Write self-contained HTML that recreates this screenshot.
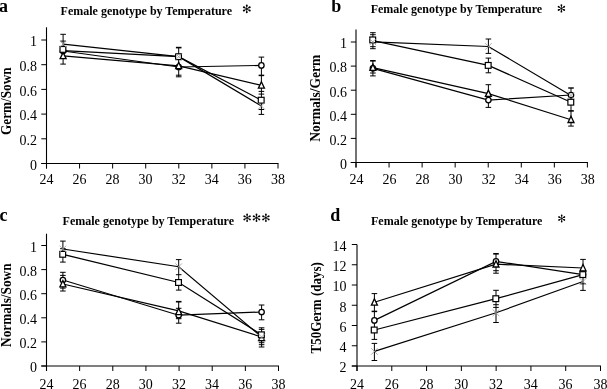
<!DOCTYPE html>
<html><head><meta charset="utf-8"><title>Female genotype by Temperature</title>
<style>
html,body{margin:0;padding:0;background:#fff;}
svg{display:block;font-family:"Liberation Serif", serif;filter:grayscale(1);}
text{fill:#000;}
</style></head><body>
<svg width="607" height="389" viewBox="0 0 607 389">
<rect width="607" height="389" fill="#fff"/>
<line x1="46.5" y1="27.3" x2="46.5" y2="168.5" stroke="#000" stroke-width="1.1" />
<line x1="41.3" y1="163.5" x2="278.5" y2="163.5" stroke="#000" stroke-width="1.1" />
<line x1="46.5" y1="163.5" x2="46.5" y2="168.5" stroke="#000" stroke-width="1" />
<text transform="translate(46.4,184.3) scale(1,1.1)" font-size="14" text-anchor="middle" font-weight="normal" >24</text>
<line x1="79.57" y1="163.5" x2="79.57" y2="168.5" stroke="#000" stroke-width="1" />
<text transform="translate(79.47,184.3) scale(1,1.1)" font-size="14" text-anchor="middle" font-weight="normal" >26</text>
<line x1="112.64" y1="163.5" x2="112.64" y2="168.5" stroke="#000" stroke-width="1" />
<text transform="translate(112.54,184.3) scale(1,1.1)" font-size="14" text-anchor="middle" font-weight="normal" >28</text>
<line x1="145.71" y1="163.5" x2="145.71" y2="168.5" stroke="#000" stroke-width="1" />
<text transform="translate(145.61,184.3) scale(1,1.1)" font-size="14" text-anchor="middle" font-weight="normal" >30</text>
<line x1="178.79" y1="163.5" x2="178.79" y2="168.5" stroke="#000" stroke-width="1" />
<text transform="translate(178.69,184.3) scale(1,1.1)" font-size="14" text-anchor="middle" font-weight="normal" >32</text>
<line x1="211.86" y1="163.5" x2="211.86" y2="168.5" stroke="#000" stroke-width="1" />
<text transform="translate(211.76,184.3) scale(1,1.1)" font-size="14" text-anchor="middle" font-weight="normal" >34</text>
<line x1="244.93" y1="163.5" x2="244.93" y2="168.5" stroke="#000" stroke-width="1" />
<text transform="translate(244.83,184.3) scale(1,1.1)" font-size="14" text-anchor="middle" font-weight="normal" >36</text>
<line x1="278" y1="163.5" x2="278" y2="168.5" stroke="#000" stroke-width="1" />
<text transform="translate(277.9,184.3) scale(1,1.1)" font-size="14" text-anchor="middle" font-weight="normal" >38</text>
<line x1="41.3" y1="163.5" x2="46.5" y2="163.5" stroke="#000" stroke-width="1" />
<text transform="translate(37,169.8) scale(1,1.1)" font-size="14" text-anchor="end" font-weight="normal" >0</text>
<line x1="41.3" y1="138.8" x2="46.5" y2="138.8" stroke="#000" stroke-width="1" />
<text transform="translate(37,145.1) scale(1,1.1)" font-size="14" text-anchor="end" font-weight="normal" >0.2</text>
<line x1="41.3" y1="114.1" x2="46.5" y2="114.1" stroke="#000" stroke-width="1" />
<text transform="translate(37,120.4) scale(1,1.1)" font-size="14" text-anchor="end" font-weight="normal" >0.4</text>
<line x1="41.3" y1="89.4" x2="46.5" y2="89.4" stroke="#000" stroke-width="1" />
<text transform="translate(37,95.7) scale(1,1.1)" font-size="14" text-anchor="end" font-weight="normal" >0.6</text>
<line x1="41.3" y1="64.7" x2="46.5" y2="64.7" stroke="#000" stroke-width="1" />
<text transform="translate(37,71) scale(1,1.1)" font-size="14" text-anchor="end" font-weight="normal" >0.8</text>
<line x1="41.3" y1="40" x2="46.5" y2="40" stroke="#000" stroke-width="1" />
<text transform="translate(37,46.3) scale(1,1.1)" font-size="14" text-anchor="end" font-weight="normal" >1</text>
<polyline points="63.1,44.1 178.7,56.7 261.4,106" fill="none" stroke="#000" stroke-width="1.2"/>
<polyline points="63.1,50.6 178.7,56.7 261.4,100.2" fill="none" stroke="#000" stroke-width="1.2"/>
<polyline points="63.1,51 178.7,67 261.4,65.4" fill="none" stroke="#000" stroke-width="1.2"/>
<polyline points="63.1,55.9 178.7,65.8 261.4,85.3" fill="none" stroke="#000" stroke-width="1.2"/>
<line x1="63.1" y1="34.3" x2="63.1" y2="64.1" stroke="#000" stroke-width="1" />
<line x1="178.7" y1="47.6" x2="178.7" y2="76.8" stroke="#000" stroke-width="1" />
<line x1="261.4" y1="57.1" x2="261.4" y2="114.4" stroke="#000" stroke-width="1" />
<line x1="60.3" y1="34.3" x2="65.9" y2="34.3" stroke="#000" stroke-width="1" />
<line x1="60.3" y1="41.1" x2="65.9" y2="41.1" stroke="#000" stroke-width="1" />
<line x1="60.3" y1="64.1" x2="65.9" y2="64.1" stroke="#000" stroke-width="1" />
<line x1="175.9" y1="47.6" x2="181.5" y2="47.6" stroke="#000" stroke-width="1.6" />
<line x1="175.9" y1="75.2" x2="181.5" y2="75.2" stroke="#000" stroke-width="1" />
<line x1="175.9" y1="76.8" x2="181.5" y2="76.8" stroke="#000" stroke-width="1" />
<line x1="258.6" y1="57.1" x2="264.2" y2="57.1" stroke="#000" stroke-width="1" />
<line x1="258.6" y1="75.4" x2="264.2" y2="75.4" stroke="#000" stroke-width="1.5" />
<line x1="258.6" y1="91.4" x2="264.2" y2="91.4" stroke="#000" stroke-width="1" />
<line x1="258.6" y1="94.1" x2="264.2" y2="94.1" stroke="#000" stroke-width="1" />
<line x1="258.6" y1="109.5" x2="264.2" y2="109.5" stroke="#000" stroke-width="1" />
<line x1="258.6" y1="114.4" x2="264.2" y2="114.4" stroke="#000" stroke-width="1" />
<circle cx="63.1" cy="51" r="2.7" fill="#fff" stroke="#000" stroke-width="1.3"/>
<circle cx="178.7" cy="67" r="2.7" fill="#fff" stroke="#000" stroke-width="1.3"/>
<circle cx="261.4" cy="65.4" r="2.7" fill="#fff" stroke="#000" stroke-width="1.3"/>
<path d="M63.1 52.4L66.1 58.7L60.1 58.7Z" fill="#fff" stroke="#000" stroke-width="1.3"/>
<path d="M178.7 62.3L181.7 68.6L175.7 68.6Z" fill="#fff" stroke="#000" stroke-width="1.3"/>
<path d="M261.4 81.8L264.4 88.1L258.4 88.1Z" fill="#fff" stroke="#000" stroke-width="1.3"/>
<rect x="60" y="46.5" width="5.8" height="5.8" fill="#fff" stroke="#000" stroke-width="1.2"/>
<rect x="175.6" y="53.8" width="5.8" height="5.8" fill="#fff" stroke="#000" stroke-width="1.2"/>
<rect x="258.3" y="97.3" width="5.8" height="5.8" fill="#fff" stroke="#000" stroke-width="1.2"/>
<path d="M59.8 40.8L66.4 47.4M59.8 47.4L66.4 40.8" fill="none" stroke="#999" stroke-width="0.8"/>
<path d="M175.4 53.4L182 60M175.4 60L182 53.4" fill="none" stroke="#999" stroke-width="0.8"/>
<path d="M258.1 102.7L264.7 109.3M258.1 109.3L264.7 102.7" fill="none" stroke="#999" stroke-width="0.8"/>
<text x="-1" y="12" font-size="18" text-anchor="start" font-weight="bold" >a</text>
<text x="60.6" y="14.8" font-size="12" text-anchor="start" font-weight="bold" >Female genotype by Temperature</text>
<path d="M247.05 8.9L247.1 7.35L247.61 6.14L247.75 5.45A0.95 0.95 0 0 0 245.85 5.45L245.99 6.14L246.5 7.35L246.55 8.9ZM246.93 9.12L248.29 8.38L249.59 8.22L250.26 8A0.95 0.95 0 0 0 249.31 6.35L248.79 6.82L247.99 7.86L246.68 8.68ZM246.68 9.12L247.99 9.94L248.79 10.98L249.31 11.45A0.95 0.95 0 0 0 250.26 9.8L249.59 9.58L248.29 9.42L246.93 8.68ZM246.55 8.9L246.5 10.45L245.99 11.66L245.85 12.35A0.95 0.95 0 0 0 247.75 12.35L247.61 11.66L247.1 10.45L247.05 8.9ZM246.68 8.68L245.31 9.42L244.01 9.58L243.34 9.8A0.95 0.95 0 0 0 244.29 11.45L244.81 10.98L245.61 9.94L246.93 9.12ZM246.93 8.68L245.61 7.86L244.81 6.82L244.29 6.35A0.95 0.95 0 0 0 243.34 8L244.01 8.22L245.31 8.38L246.68 9.12Z" fill="#000"/>
<circle cx="246.8" cy="8.9" r="1.25" fill="#000" fill-opacity="0.55"/>
<text transform="translate(10.7,101.2) rotate(-90) scale(1,1.15)" font-size="13.2" font-weight="bold" text-anchor="middle">Germ/Sown</text>
<line x1="356" y1="29.6" x2="356" y2="167.5" stroke="#000" stroke-width="1.1" />
<line x1="350.8" y1="162.5" x2="587.9" y2="162.5" stroke="#000" stroke-width="1.1" />
<line x1="356" y1="162.5" x2="356" y2="167.5" stroke="#000" stroke-width="1" />
<text transform="translate(356.4,184.3) scale(1,1.1)" font-size="14" text-anchor="middle" font-weight="normal" >24</text>
<line x1="389.06" y1="162.5" x2="389.06" y2="167.5" stroke="#000" stroke-width="1" />
<text transform="translate(389.46,184.3) scale(1,1.1)" font-size="14" text-anchor="middle" font-weight="normal" >26</text>
<line x1="422.11" y1="162.5" x2="422.11" y2="167.5" stroke="#000" stroke-width="1" />
<text transform="translate(422.51,184.3) scale(1,1.1)" font-size="14" text-anchor="middle" font-weight="normal" >28</text>
<line x1="455.17" y1="162.5" x2="455.17" y2="167.5" stroke="#000" stroke-width="1" />
<text transform="translate(455.57,184.3) scale(1,1.1)" font-size="14" text-anchor="middle" font-weight="normal" >30</text>
<line x1="488.23" y1="162.5" x2="488.23" y2="167.5" stroke="#000" stroke-width="1" />
<text transform="translate(488.63,184.3) scale(1,1.1)" font-size="14" text-anchor="middle" font-weight="normal" >32</text>
<line x1="521.29" y1="162.5" x2="521.29" y2="167.5" stroke="#000" stroke-width="1" />
<text transform="translate(521.69,184.3) scale(1,1.1)" font-size="14" text-anchor="middle" font-weight="normal" >34</text>
<line x1="554.34" y1="162.5" x2="554.34" y2="167.5" stroke="#000" stroke-width="1" />
<text transform="translate(554.74,184.3) scale(1,1.1)" font-size="14" text-anchor="middle" font-weight="normal" >36</text>
<line x1="587.4" y1="162.5" x2="587.4" y2="167.5" stroke="#000" stroke-width="1" />
<text transform="translate(587.8,184.3) scale(1,1.1)" font-size="14" text-anchor="middle" font-weight="normal" >38</text>
<line x1="350.8" y1="162.5" x2="356" y2="162.5" stroke="#000" stroke-width="1" />
<text transform="translate(347.1,168.8) scale(1,1.1)" font-size="14" text-anchor="end" font-weight="normal" >0</text>
<line x1="350.8" y1="138.4" x2="356" y2="138.4" stroke="#000" stroke-width="1" />
<text transform="translate(347.1,144.7) scale(1,1.1)" font-size="14" text-anchor="end" font-weight="normal" >0.2</text>
<line x1="350.8" y1="114.3" x2="356" y2="114.3" stroke="#000" stroke-width="1" />
<text transform="translate(347.1,120.6) scale(1,1.1)" font-size="14" text-anchor="end" font-weight="normal" >0.4</text>
<line x1="350.8" y1="90.2" x2="356" y2="90.2" stroke="#000" stroke-width="1" />
<text transform="translate(347.1,96.5) scale(1,1.1)" font-size="14" text-anchor="end" font-weight="normal" >0.6</text>
<line x1="350.8" y1="66.1" x2="356" y2="66.1" stroke="#000" stroke-width="1" />
<text transform="translate(347.1,72.4) scale(1,1.1)" font-size="14" text-anchor="end" font-weight="normal" >0.8</text>
<line x1="350.8" y1="42" x2="356" y2="42" stroke="#000" stroke-width="1" />
<text transform="translate(347.1,48.3) scale(1,1.1)" font-size="14" text-anchor="end" font-weight="normal" >1</text>
<polyline points="372.9,41.9 488.4,46.5 571,95.5" fill="none" stroke="#000" stroke-width="1.2"/>
<polyline points="372.9,40.7 488.4,65.4 571,102.2" fill="none" stroke="#000" stroke-width="1.2"/>
<polyline points="372.9,68.3 488.4,100.1 571,95" fill="none" stroke="#000" stroke-width="1.2"/>
<polyline points="372.9,67.6 488.4,93.6 571,119.7" fill="none" stroke="#000" stroke-width="1.2"/>
<line x1="372.9" y1="32.7" x2="372.9" y2="48.7" stroke="#000" stroke-width="1" />
<line x1="372.9" y1="61" x2="372.9" y2="75.9" stroke="#000" stroke-width="1" />
<line x1="488.4" y1="39" x2="488.4" y2="53.4" stroke="#000" stroke-width="1" />
<line x1="488.4" y1="58.1" x2="488.4" y2="72.8" stroke="#000" stroke-width="1" />
<line x1="488.4" y1="84.7" x2="488.4" y2="107.4" stroke="#000" stroke-width="1" />
<line x1="571" y1="88" x2="571" y2="126.1" stroke="#000" stroke-width="1" />
<line x1="370.1" y1="32.7" x2="375.7" y2="32.7" stroke="#000" stroke-width="1" />
<line x1="370.1" y1="34.7" x2="375.7" y2="34.7" stroke="#000" stroke-width="1" />
<line x1="370.1" y1="46.7" x2="375.7" y2="46.7" stroke="#000" stroke-width="1" />
<line x1="370.1" y1="48.7" x2="375.7" y2="48.7" stroke="#000" stroke-width="1" />
<line x1="370.1" y1="60.8" x2="375.7" y2="60.8" stroke="#000" stroke-width="1.6" />
<line x1="370.1" y1="73" x2="375.7" y2="73" stroke="#000" stroke-width="1" />
<line x1="370.1" y1="75.9" x2="375.7" y2="75.9" stroke="#000" stroke-width="1" />
<line x1="485.6" y1="39" x2="491.2" y2="39" stroke="#000" stroke-width="1" />
<line x1="485.6" y1="53.4" x2="491.2" y2="53.4" stroke="#000" stroke-width="1" />
<line x1="485.6" y1="58.1" x2="491.2" y2="58.1" stroke="#000" stroke-width="1" />
<line x1="485.6" y1="72.8" x2="491.2" y2="72.8" stroke="#000" stroke-width="1" />
<line x1="485.6" y1="84.7" x2="491.2" y2="84.7" stroke="#000" stroke-width="1" />
<line x1="485.6" y1="107.4" x2="491.2" y2="107.4" stroke="#000" stroke-width="1" />
<line x1="568.2" y1="88" x2="573.8" y2="88" stroke="#000" stroke-width="1.4" />
<line x1="568.2" y1="110.9" x2="573.8" y2="110.9" stroke="#000" stroke-width="1.6" />
<line x1="568.2" y1="126.1" x2="573.8" y2="126.1" stroke="#000" stroke-width="1" />
<circle cx="372.9" cy="68.3" r="2.7" fill="#fff" stroke="#000" stroke-width="1.3"/>
<circle cx="488.4" cy="100.1" r="2.7" fill="#fff" stroke="#000" stroke-width="1.3"/>
<circle cx="571" cy="95" r="2.7" fill="#fff" stroke="#000" stroke-width="1.3"/>
<path d="M372.9 64.1L375.9 70.4L369.9 70.4Z" fill="#fff" stroke="#000" stroke-width="1.3"/>
<path d="M488.4 90.1L491.4 96.4L485.4 96.4Z" fill="#fff" stroke="#000" stroke-width="1.3"/>
<path d="M571 116.2L574 122.5L568 122.5Z" fill="#fff" stroke="#000" stroke-width="1.3"/>
<rect x="369.8" y="37" width="5.8" height="5.8" fill="#fff" stroke="#000" stroke-width="1.2"/>
<rect x="485.3" y="62.5" width="5.8" height="5.8" fill="#fff" stroke="#000" stroke-width="1.2"/>
<rect x="567.9" y="99.3" width="5.8" height="5.8" fill="#fff" stroke="#000" stroke-width="1.2"/>
<path d="M369.6 38.6L376.2 45.2M369.6 45.2L376.2 38.6" fill="none" stroke="#999" stroke-width="0.8"/>
<path d="M485.1 43.2L491.7 49.8M485.1 49.8L491.7 43.2" fill="none" stroke="#999" stroke-width="0.8"/>
<path d="M567.7 92.2L574.3 98.8M567.7 98.8L574.3 92.2" fill="none" stroke="#999" stroke-width="0.8"/>
<text x="331.2" y="12" font-size="18" text-anchor="start" font-weight="bold" >b</text>
<text x="370.7" y="13.2" font-size="12" text-anchor="start" font-weight="bold" >Female genotype by Temperature</text>
<path d="M561.64 8.4L561.68 6.93L562.17 5.78L562.3 5.12A0.9 0.9 0 0 0 560.5 5.12L560.63 5.78L561.12 6.93L561.16 8.4ZM561.52 8.61L562.82 7.91L564.05 7.75L564.69 7.54A0.9 0.9 0 0 0 563.79 5.98L563.29 6.42L562.53 7.42L561.28 8.19ZM561.28 8.61L562.53 9.38L563.29 10.38L563.79 10.82A0.9 0.9 0 0 0 564.69 9.26L564.05 9.05L562.82 8.89L561.52 8.19ZM561.16 8.4L561.12 9.87L560.63 11.02L560.5 11.68A0.9 0.9 0 0 0 562.3 11.68L562.17 11.02L561.68 9.87L561.64 8.4ZM561.28 8.19L559.98 8.89L558.75 9.05L558.11 9.26A0.9 0.9 0 0 0 559.01 10.82L559.51 10.38L560.27 9.38L561.52 8.61ZM561.52 8.19L560.27 7.42L559.51 6.42L559.01 5.98A0.9 0.9 0 0 0 558.11 7.54L558.75 7.75L559.98 7.91L561.28 8.61Z" fill="#000"/>
<circle cx="561.4" cy="8.4" r="1.19" fill="#000" fill-opacity="0.55"/>
<text transform="translate(320.1,98.2) rotate(-90) scale(1,1.15)" font-size="13.5" font-weight="bold" text-anchor="middle">Normals/Germ</text>
<line x1="46.5" y1="233.7" x2="46.5" y2="371" stroke="#000" stroke-width="1.1" />
<line x1="41.3" y1="366" x2="279" y2="366" stroke="#000" stroke-width="1.1" />
<line x1="46.5" y1="366" x2="46.5" y2="371" stroke="#000" stroke-width="1" />
<text transform="translate(46.4,389.1) scale(1,1.1)" font-size="14" text-anchor="middle" font-weight="normal" >24</text>
<line x1="79.64" y1="366" x2="79.64" y2="371" stroke="#000" stroke-width="1" />
<text transform="translate(79.54,389.1) scale(1,1.1)" font-size="14" text-anchor="middle" font-weight="normal" >26</text>
<line x1="112.79" y1="366" x2="112.79" y2="371" stroke="#000" stroke-width="1" />
<text transform="translate(112.69,389.1) scale(1,1.1)" font-size="14" text-anchor="middle" font-weight="normal" >28</text>
<line x1="145.93" y1="366" x2="145.93" y2="371" stroke="#000" stroke-width="1" />
<text transform="translate(145.83,389.1) scale(1,1.1)" font-size="14" text-anchor="middle" font-weight="normal" >30</text>
<line x1="179.07" y1="366" x2="179.07" y2="371" stroke="#000" stroke-width="1" />
<text transform="translate(178.97,389.1) scale(1,1.1)" font-size="14" text-anchor="middle" font-weight="normal" >32</text>
<line x1="212.21" y1="366" x2="212.21" y2="371" stroke="#000" stroke-width="1" />
<text transform="translate(212.11,389.1) scale(1,1.1)" font-size="14" text-anchor="middle" font-weight="normal" >34</text>
<line x1="245.36" y1="366" x2="245.36" y2="371" stroke="#000" stroke-width="1" />
<text transform="translate(245.26,389.1) scale(1,1.1)" font-size="14" text-anchor="middle" font-weight="normal" >36</text>
<line x1="278.5" y1="366" x2="278.5" y2="371" stroke="#000" stroke-width="1" />
<text transform="translate(278.4,389.1) scale(1,1.1)" font-size="14" text-anchor="middle" font-weight="normal" >38</text>
<line x1="41.3" y1="366" x2="46.5" y2="366" stroke="#000" stroke-width="1" />
<text transform="translate(37,372.3) scale(1,1.1)" font-size="14" text-anchor="end" font-weight="normal" >0</text>
<line x1="41.3" y1="341.9" x2="46.5" y2="341.9" stroke="#000" stroke-width="1" />
<text transform="translate(37,348.2) scale(1,1.1)" font-size="14" text-anchor="end" font-weight="normal" >0.2</text>
<line x1="41.3" y1="317.8" x2="46.5" y2="317.8" stroke="#000" stroke-width="1" />
<text transform="translate(37,324.1) scale(1,1.1)" font-size="14" text-anchor="end" font-weight="normal" >0.4</text>
<line x1="41.3" y1="293.7" x2="46.5" y2="293.7" stroke="#000" stroke-width="1" />
<text transform="translate(37,300) scale(1,1.1)" font-size="14" text-anchor="end" font-weight="normal" >0.6</text>
<line x1="41.3" y1="269.6" x2="46.5" y2="269.6" stroke="#000" stroke-width="1" />
<text transform="translate(37,275.9) scale(1,1.1)" font-size="14" text-anchor="end" font-weight="normal" >0.8</text>
<line x1="41.3" y1="245.5" x2="46.5" y2="245.5" stroke="#000" stroke-width="1" />
<text transform="translate(37,251.8) scale(1,1.1)" font-size="14" text-anchor="end" font-weight="normal" >1</text>
<polyline points="62.9,249 178.7,266.7 261.6,337" fill="none" stroke="#000" stroke-width="1.2"/>
<polyline points="62.9,254.3 178.7,282.5 261.6,334.8" fill="none" stroke="#000" stroke-width="1.2"/>
<polyline points="62.9,280 178.7,315.2 261.6,312" fill="none" stroke="#000" stroke-width="1.2"/>
<polyline points="62.9,284 178.7,310.9 261.6,337" fill="none" stroke="#000" stroke-width="1.2"/>
<line x1="62.9" y1="241.1" x2="62.9" y2="262.1" stroke="#000" stroke-width="1" />
<line x1="62.9" y1="272.3" x2="62.9" y2="291" stroke="#000" stroke-width="1" />
<line x1="178.7" y1="259.6" x2="178.7" y2="290.1" stroke="#000" stroke-width="1" />
<line x1="178.7" y1="302" x2="178.7" y2="323.2" stroke="#000" stroke-width="1" />
<line x1="261.6" y1="305" x2="261.6" y2="319.8" stroke="#000" stroke-width="1" />
<line x1="261.6" y1="327.8" x2="261.6" y2="347" stroke="#000" stroke-width="1" />
<line x1="60.1" y1="241.1" x2="65.7" y2="241.1" stroke="#000" stroke-width="1" />
<line x1="60.1" y1="248.7" x2="65.7" y2="248.7" stroke="#000" stroke-width="1" />
<line x1="60.1" y1="262.1" x2="65.7" y2="262.1" stroke="#000" stroke-width="1" />
<line x1="60.1" y1="272.3" x2="65.7" y2="272.3" stroke="#000" stroke-width="1" />
<line x1="60.1" y1="275.4" x2="65.7" y2="275.4" stroke="#000" stroke-width="1" />
<line x1="60.1" y1="288.1" x2="65.7" y2="288.1" stroke="#000" stroke-width="1" />
<line x1="60.1" y1="291" x2="65.7" y2="291" stroke="#000" stroke-width="1" />
<line x1="175.9" y1="259.6" x2="181.5" y2="259.6" stroke="#000" stroke-width="1" />
<line x1="175.9" y1="274.7" x2="181.5" y2="274.7" stroke="#000" stroke-width="1" />
<line x1="175.9" y1="290.1" x2="181.5" y2="290.1" stroke="#000" stroke-width="1" />
<line x1="175.9" y1="301.7" x2="181.5" y2="301.7" stroke="#000" stroke-width="1.6" />
<line x1="175.9" y1="308.3" x2="181.5" y2="308.3" stroke="#000" stroke-width="1" />
<line x1="175.9" y1="318.7" x2="181.5" y2="318.7" stroke="#000" stroke-width="1" />
<line x1="175.9" y1="323.2" x2="181.5" y2="323.2" stroke="#000" stroke-width="1" />
<line x1="258.8" y1="305" x2="264.4" y2="305" stroke="#000" stroke-width="1" />
<line x1="258.8" y1="319.8" x2="264.4" y2="319.8" stroke="#000" stroke-width="1" />
<line x1="258.8" y1="327.8" x2="264.4" y2="327.8" stroke="#000" stroke-width="1" />
<line x1="258.8" y1="329.4" x2="264.4" y2="329.4" stroke="#000" stroke-width="1" />
<line x1="258.8" y1="340.7" x2="264.4" y2="340.7" stroke="#000" stroke-width="1" />
<line x1="258.8" y1="342.7" x2="264.4" y2="342.7" stroke="#000" stroke-width="1" />
<line x1="258.8" y1="344.7" x2="264.4" y2="344.7" stroke="#000" stroke-width="1" />
<line x1="258.8" y1="347" x2="264.4" y2="347" stroke="#000" stroke-width="1" />
<circle cx="62.9" cy="280" r="2.7" fill="#fff" stroke="#000" stroke-width="1.3"/>
<circle cx="178.7" cy="315.2" r="2.7" fill="#fff" stroke="#000" stroke-width="1.3"/>
<circle cx="261.6" cy="312" r="2.7" fill="#fff" stroke="#000" stroke-width="1.3"/>
<path d="M62.9 280.5L65.9 286.8L59.9 286.8Z" fill="#fff" stroke="#000" stroke-width="1.3"/>
<path d="M178.7 308.3L181.7 314.6L175.7 314.6Z" fill="#fff" stroke="#000" stroke-width="1.3"/>
<path d="M261.6 334.3L264.6 340.6L258.6 340.6Z" fill="#fff" stroke="#000" stroke-width="1.3"/>
<rect x="59.8" y="251.4" width="5.8" height="5.8" fill="#fff" stroke="#000" stroke-width="1.2"/>
<rect x="175.6" y="279.6" width="5.8" height="5.8" fill="#fff" stroke="#000" stroke-width="1.2"/>
<rect x="258.5" y="331.9" width="5.8" height="5.8" fill="#fff" stroke="#000" stroke-width="1.2"/>
<path d="M59.6 245.7L66.2 252.3M59.6 252.3L66.2 245.7" fill="none" stroke="#999" stroke-width="0.8"/>
<path d="M175.4 263.4L182 270M175.4 270L182 263.4" fill="none" stroke="#999" stroke-width="0.8"/>
<path d="M258.3 333.7L264.9 340.3M258.3 340.3L264.9 333.7" fill="none" stroke="#999" stroke-width="0.8"/>
<text x="-0.5" y="221" font-size="18" text-anchor="start" font-weight="bold" >c</text>
<text x="62.6" y="224.9" font-size="12" text-anchor="start" font-weight="bold" >Female genotype by Temperature</text>
<path d="M247.34 217.8L247.38 216.33L247.87 215.18L248 214.52A0.9 0.9 0 0 0 246.2 214.52L246.33 215.18L246.81 216.33L246.86 217.8ZM247.22 218.01L248.52 217.31L249.75 217.15L250.39 216.94A0.9 0.9 0 0 0 249.49 215.38L248.99 215.82L248.23 216.82L246.98 217.59ZM246.98 218.01L248.23 218.78L248.99 219.78L249.49 220.22A0.9 0.9 0 0 0 250.39 218.66L249.75 218.45L248.52 218.29L247.22 217.59ZM246.86 217.8L246.81 219.27L246.33 220.42L246.2 221.08A0.9 0.9 0 0 0 248 221.08L247.87 220.42L247.38 219.27L247.34 217.8ZM246.98 217.59L245.68 218.29L244.45 218.45L243.81 218.66A0.9 0.9 0 0 0 244.71 220.22L245.21 219.78L245.97 218.78L247.22 218.01ZM247.22 217.59L245.97 216.82L245.21 215.82L244.71 215.38A0.9 0.9 0 0 0 243.81 216.94L244.45 217.15L245.68 217.31L246.98 218.01Z" fill="#000"/>
<circle cx="247.1" cy="217.8" r="1.19" fill="#000" fill-opacity="0.55"/>
<path d="M256.74 217.8L256.79 216.33L257.27 215.18L257.4 214.52A0.9 0.9 0 0 0 255.6 214.52L255.73 215.18L256.21 216.33L256.26 217.8ZM256.62 218.01L257.92 217.31L259.15 217.15L259.79 216.94A0.9 0.9 0 0 0 258.89 215.38L258.39 215.82L257.63 216.82L256.38 217.59ZM256.38 218.01L257.63 218.78L258.39 219.78L258.89 220.22A0.9 0.9 0 0 0 259.79 218.66L259.15 218.45L257.92 218.29L256.62 217.59ZM256.26 217.8L256.21 219.27L255.73 220.42L255.6 221.08A0.9 0.9 0 0 0 257.4 221.08L257.27 220.42L256.79 219.27L256.74 217.8ZM256.38 217.59L255.08 218.29L253.85 218.45L253.21 218.66A0.9 0.9 0 0 0 254.11 220.22L254.61 219.78L255.37 218.78L256.62 218.01ZM256.62 217.59L255.37 216.82L254.61 215.82L254.11 215.38A0.9 0.9 0 0 0 253.21 216.94L253.85 217.15L255.08 217.31L256.38 218.01Z" fill="#000"/>
<circle cx="256.5" cy="217.8" r="1.19" fill="#000" fill-opacity="0.55"/>
<path d="M266.14 217.8L266.19 216.33L266.67 215.18L266.8 214.52A0.9 0.9 0 0 0 265 214.52L265.13 215.18L265.61 216.33L265.66 217.8ZM266.02 218.01L267.32 217.31L268.55 217.15L269.19 216.94A0.9 0.9 0 0 0 268.29 215.38L267.79 215.82L267.03 216.82L265.78 217.59ZM265.78 218.01L267.03 218.78L267.79 219.78L268.29 220.22A0.9 0.9 0 0 0 269.19 218.66L268.55 218.45L267.32 218.29L266.02 217.59ZM265.66 217.8L265.61 219.27L265.13 220.42L265 221.08A0.9 0.9 0 0 0 266.8 221.08L266.67 220.42L266.19 219.27L266.14 217.8ZM265.78 217.59L264.48 218.29L263.25 218.45L262.61 218.66A0.9 0.9 0 0 0 263.51 220.22L264.01 219.78L264.77 218.78L266.02 218.01ZM266.02 217.59L264.77 216.82L264.01 215.82L263.51 215.38A0.9 0.9 0 0 0 262.61 216.94L263.25 217.15L264.48 217.31L265.78 218.01Z" fill="#000"/>
<circle cx="265.9" cy="217.8" r="1.19" fill="#000" fill-opacity="0.55"/>
<text transform="translate(10.8,305.2) rotate(-90) scale(1,1.15)" font-size="13.3" font-weight="bold" text-anchor="middle">Normals/Sown</text>
<line x1="357" y1="244.5" x2="357" y2="371" stroke="#000" stroke-width="1.1" />
<line x1="351.8" y1="366" x2="601" y2="366" stroke="#000" stroke-width="1.1" />
<line x1="357" y1="366" x2="357" y2="371" stroke="#000" stroke-width="1" />
<text transform="translate(356.9,389.3) scale(1,1.1)" font-size="14" text-anchor="middle" font-weight="normal" >24</text>
<line x1="391.79" y1="366" x2="391.79" y2="371" stroke="#000" stroke-width="1" />
<text transform="translate(391.69,389.3) scale(1,1.1)" font-size="14" text-anchor="middle" font-weight="normal" >26</text>
<line x1="426.57" y1="366" x2="426.57" y2="371" stroke="#000" stroke-width="1" />
<text transform="translate(426.47,389.3) scale(1,1.1)" font-size="14" text-anchor="middle" font-weight="normal" >28</text>
<line x1="461.36" y1="366" x2="461.36" y2="371" stroke="#000" stroke-width="1" />
<text transform="translate(461.26,389.3) scale(1,1.1)" font-size="14" text-anchor="middle" font-weight="normal" >30</text>
<line x1="496.14" y1="366" x2="496.14" y2="371" stroke="#000" stroke-width="1" />
<text transform="translate(496.04,389.3) scale(1,1.1)" font-size="14" text-anchor="middle" font-weight="normal" >32</text>
<line x1="530.93" y1="366" x2="530.93" y2="371" stroke="#000" stroke-width="1" />
<text transform="translate(530.83,389.3) scale(1,1.1)" font-size="14" text-anchor="middle" font-weight="normal" >34</text>
<line x1="565.71" y1="366" x2="565.71" y2="371" stroke="#000" stroke-width="1" />
<text transform="translate(565.61,389.3) scale(1,1.1)" font-size="14" text-anchor="middle" font-weight="normal" >36</text>
<line x1="600.5" y1="366" x2="600.5" y2="371" stroke="#000" stroke-width="1" />
<text transform="translate(600.4,389.3) scale(1,1.1)" font-size="14" text-anchor="middle" font-weight="normal" >38</text>
<line x1="351.8" y1="366" x2="357" y2="366" stroke="#000" stroke-width="1" />
<text transform="translate(346.6,372.3) scale(1,1.1)" font-size="14" text-anchor="end" font-weight="normal" >2</text>
<line x1="351.8" y1="345.75" x2="357" y2="345.75" stroke="#000" stroke-width="1" />
<text transform="translate(346.6,352.05) scale(1,1.1)" font-size="14" text-anchor="end" font-weight="normal" >4</text>
<line x1="351.8" y1="325.5" x2="357" y2="325.5" stroke="#000" stroke-width="1" />
<text transform="translate(346.6,331.8) scale(1,1.1)" font-size="14" text-anchor="end" font-weight="normal" >6</text>
<line x1="351.8" y1="305.25" x2="357" y2="305.25" stroke="#000" stroke-width="1" />
<text transform="translate(346.6,311.55) scale(1,1.1)" font-size="14" text-anchor="end" font-weight="normal" >8</text>
<line x1="351.8" y1="285" x2="357" y2="285" stroke="#000" stroke-width="1" />
<text transform="translate(346.6,291.3) scale(1,1.1)" font-size="14" text-anchor="end" font-weight="normal" >10</text>
<line x1="351.8" y1="264.75" x2="357" y2="264.75" stroke="#000" stroke-width="1" />
<text transform="translate(346.6,271.05) scale(1,1.1)" font-size="14" text-anchor="end" font-weight="normal" >12</text>
<line x1="351.8" y1="244.5" x2="357" y2="244.5" stroke="#000" stroke-width="1" />
<text transform="translate(346.6,250.8) scale(1,1.1)" font-size="14" text-anchor="end" font-weight="normal" >14</text>
<polyline points="374.4,351.4 496,312.8 583,281.5" fill="none" stroke="#000" stroke-width="1.2"/>
<polyline points="374.4,330 496,298.7 583,274.6" fill="none" stroke="#000" stroke-width="1.2"/>
<polyline points="374.4,320.4 496,261.4 583,274.6" fill="none" stroke="#000" stroke-width="1.2"/>
<polyline points="374.4,302.3 496,264.2 583,268" fill="none" stroke="#000" stroke-width="1.2"/>
<line x1="374.4" y1="293.6" x2="374.4" y2="339.4" stroke="#000" stroke-width="1" />
<line x1="374.4" y1="343.4" x2="374.4" y2="360.5" stroke="#000" stroke-width="1" />
<line x1="496" y1="253.8" x2="496" y2="273.2" stroke="#000" stroke-width="1" />
<line x1="496" y1="290.3" x2="496" y2="322.5" stroke="#000" stroke-width="1" />
<line x1="583" y1="259.4" x2="583" y2="290.4" stroke="#000" stroke-width="1" />
<line x1="371.6" y1="293.6" x2="377.2" y2="293.6" stroke="#000" stroke-width="1" />
<line x1="371.6" y1="311.4" x2="377.2" y2="311.4" stroke="#000" stroke-width="1.5" />
<line x1="371.6" y1="339.4" x2="377.2" y2="339.4" stroke="#000" stroke-width="1" />
<line x1="371.6" y1="343.4" x2="377.2" y2="343.4" stroke="#000" stroke-width="1" />
<line x1="371.6" y1="360.5" x2="377.2" y2="360.5" stroke="#000" stroke-width="1" />
<line x1="493.2" y1="253.8" x2="498.8" y2="253.8" stroke="#000" stroke-width="1.6" />
<line x1="493.2" y1="270.7" x2="498.8" y2="270.7" stroke="#000" stroke-width="1" />
<line x1="493.2" y1="273.2" x2="498.8" y2="273.2" stroke="#000" stroke-width="1" />
<line x1="493.2" y1="290.3" x2="498.8" y2="290.3" stroke="#000" stroke-width="1" />
<line x1="493.2" y1="304.7" x2="498.8" y2="304.7" stroke="#000" stroke-width="1" />
<line x1="493.2" y1="307.4" x2="498.8" y2="307.4" stroke="#000" stroke-width="1" />
<line x1="493.2" y1="322.5" x2="498.8" y2="322.5" stroke="#000" stroke-width="1" />
<line x1="580.2" y1="259.4" x2="585.8" y2="259.4" stroke="#000" stroke-width="1" />
<line x1="580.2" y1="283.8" x2="585.8" y2="283.8" stroke="#000" stroke-width="1" />
<line x1="580.2" y1="290.4" x2="585.8" y2="290.4" stroke="#000" stroke-width="1" />
<circle cx="374.4" cy="320.4" r="2.7" fill="#fff" stroke="#000" stroke-width="1.3"/>
<circle cx="496" cy="261.4" r="2.7" fill="#fff" stroke="#000" stroke-width="1.3"/>
<circle cx="583" cy="274.6" r="2.7" fill="#fff" stroke="#000" stroke-width="1.3"/>
<path d="M374.4 298.8L377.4 305.1L371.4 305.1Z" fill="#fff" stroke="#000" stroke-width="1.3"/>
<path d="M496 260.7L499 267L493 267Z" fill="#fff" stroke="#000" stroke-width="1.3"/>
<path d="M583 264.5L586 270.8L580 270.8Z" fill="#fff" stroke="#000" stroke-width="1.3"/>
<rect x="371.3" y="327.1" width="5.8" height="5.8" fill="#fff" stroke="#000" stroke-width="1.2"/>
<rect x="492.9" y="295.8" width="5.8" height="5.8" fill="#fff" stroke="#000" stroke-width="1.2"/>
<rect x="579.9" y="271.7" width="5.8" height="5.8" fill="#fff" stroke="#000" stroke-width="1.2"/>
<path d="M371.1 348.1L377.7 354.7M371.1 354.7L377.7 348.1" fill="none" stroke="#999" stroke-width="0.8"/>
<path d="M492.7 309.5L499.3 316.1M492.7 316.1L499.3 309.5" fill="none" stroke="#999" stroke-width="0.8"/>
<path d="M579.7 278.2L586.3 284.8M579.7 284.8L586.3 278.2" fill="none" stroke="#999" stroke-width="0.8"/>
<text x="330.3" y="221.1" font-size="18" text-anchor="start" font-weight="bold" >d</text>
<text x="371" y="224.7" font-size="12" text-anchor="start" font-weight="bold" >Female genotype by Temperature</text>
<path d="M561.93 218.5L561.97 217.1L562.43 216.02L562.56 215.4A0.85 0.85 0 0 0 560.85 215.4L560.97 216.02L561.43 217.1L561.48 218.5ZM561.81 218.69L563.05 218.04L564.21 217.89L564.82 217.69A0.85 0.85 0 0 0 563.96 216.21L563.49 216.63L562.78 217.57L561.59 218.31ZM561.59 218.69L562.78 219.43L563.49 220.37L563.96 220.79A0.85 0.85 0 0 0 564.82 219.31L564.21 219.11L563.05 218.96L561.81 218.31ZM561.48 218.5L561.43 219.9L560.97 220.98L560.85 221.6A0.85 0.85 0 0 0 562.56 221.6L562.43 220.98L561.97 219.9L561.93 218.5ZM561.59 218.31L560.35 218.96L559.19 219.11L558.58 219.31A0.85 0.85 0 0 0 559.44 220.79L559.91 220.37L560.62 219.43L561.81 218.69ZM561.81 218.31L560.62 217.57L559.91 216.63L559.44 216.21A0.85 0.85 0 0 0 558.58 217.69L559.19 217.89L560.35 218.04L561.59 218.69Z" fill="#000"/>
<circle cx="561.7" cy="218.5" r="1.12" fill="#000" fill-opacity="0.55"/>
<text transform="translate(320.7,307.8) rotate(-90) scale(1,1.15)" font-size="13.0" font-weight="bold" text-anchor="middle">T50Germ (days)</text>
</svg>
</body></html>
